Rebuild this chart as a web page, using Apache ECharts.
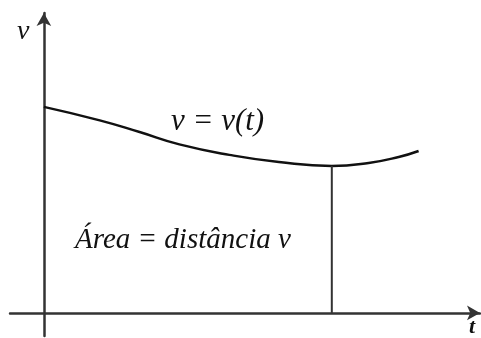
<!DOCTYPE html>
<html>
<head>
<meta charset="utf-8">
<script src="https://cdn.jsdelivr.net/npm/echarts@6/dist/echarts.min.js"></script>
<style>
  html, body { margin: 0; padding: 0; background: #fff; }
  #chart { width: 481px; height: 338px; }
</style>
</head>
<body>
<div id="chart"></div>
<script>
// curva v(t) (unidades arbitrarias)
const tValues = [0, 1.32, 2.26, 3.2, 4.38, 5.55, 6.8, 7.67, 8.38, 8.85]
const vValues = [6.87, 6.42, 6.03, 5.62, 5.27, 5.03, 4.9, 5.0, 5.2, 5.4]
// instante t marcado con la linea vertical
const tMark = 6.8
const vMark = 4.9

const chart = echarts.init(document.getElementById('chart'))

const serif = '"Liberation Serif", "DejaVu Serif", serif'

let option = {
  animation: false,
  grid: { left: 10, right: 1, top: 13, bottom: 2 },
  xAxis: {
    type: 'value',
    min: -0.8,
    max: 10.3,
    axisLine: {
      onZero: true,
      symbol: ['none', 'arrow'],
      symbolSize: [11, 13],
      lineStyle: { color: '#333', width: 2.5 }
    },
    axisTick: { show: false },
    axisLabel: { show: false },
    splitLine: { show: false }
  },
  yAxis: {
    type: 'value',
    min: -0.77,
    max: 10,
    axisLine: {
      onZero: true,
      symbol: ['none', 'arrow'],
      symbolSize: [11, 13],
      lineStyle: { color: '#333', width: 2.5 }
    },
    axisTick: { show: false },
    axisLabel: { show: false },
    splitLine: { show: false }
  },
  series: [
    {
      name: 'v(t)',
      type: 'line',
      smooth: 0.5,
      symbol: 'none',
      data: tValues.map((t, i) => [t, vValues[i]]),
      lineStyle: { color: '#111', width: 2.5 }
    },
    {
      name: 'marca',
      type: 'line',
      symbol: 'none',
      data: [[tMark, 0], [tMark, vMark]],
      lineStyle: { color: '#333', width: 2 }
    }
  ],
  graphic: [
    { type: 'text', left: 17, top: 18,
      style: { text: 'v', font: 'italic 28px ' + serif, fill: '#111' } },
    { type: 'text', left: 469, top: 316,
      style: { text: 't', font: 'italic bold 22px ' + serif, fill: '#111' } },
    { type: 'text', left: 171, top: 106,
      style: { text: 'v = v(t)', font: 'italic 31px ' + serif, fill: '#111' } },
    { type: 'text', left: 75, top: 226,
      style: { text: 'Área = distância v', font: 'italic 29px ' + serif, fill: '#111' } }
  ]
}

chart.setOption(option)
</script>
</body>
</html>
